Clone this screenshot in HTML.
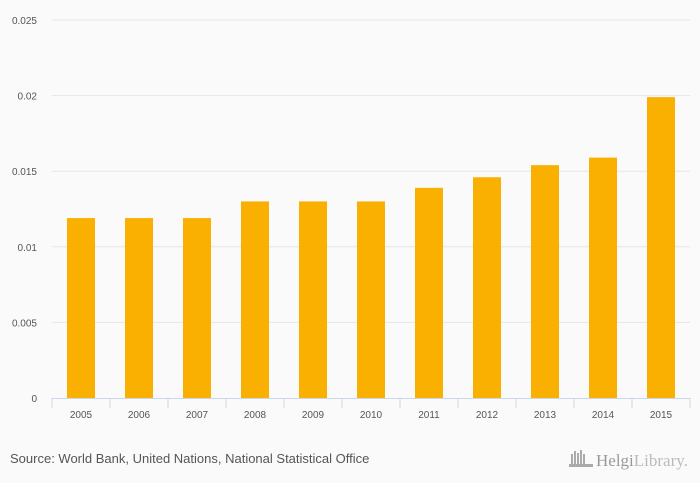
<!DOCTYPE html>
<html><head><meta charset="utf-8"><style>
body{margin:0;background:#fafafa;font-family:"Liberation Sans",sans-serif}
svg{display:block}
</style></head><body>
<svg width="700" height="483">
<rect width="700" height="483" fill="#fafafa"/>
<g id="grid"></g><g id="bars"></g><g id="xaxis"></g>
<text x="10" y="463" font-size="13" fill="#555">Source: World Bank, United Nations, National Statistical Office</text>
<g>
<g fill="#aaa"><rect x="571" y="454" width="2" height="10"/><rect x="574" y="451" width="2" height="13"/><rect x="577" y="453" width="2" height="11"/><rect x="580" y="450" width="2" height="14"/><rect x="583" y="454" width="2" height="10"/><rect x="569" y="464" width="24" height="3"/></g>
<text x="596" y="466" font-size="17" fill="#999" font-family="Liberation Serif,serif">Helgi<tspan fill="#bbb">Library.</tspan></text>
</g>
</svg>
<script>
const categories=["2005","2006","2007","2008","2009","2010","2011","2012","2013","2014","2015"];
const values=[0.0119,0.0119,0.0119,0.013,0.013,0.013,0.0139,0.0146,0.0154,0.0159,0.0199];
const yTicks=[0,0.005,0.01,0.015,0.02,0.025];
const yTickLabels=["0","0.005","0.01","0.015","0.02","0.025"];
const NS="http://www.w3.org/2000/svg";
const x0=52,x1=690,y0=398,y1=20,yMax=0.025;
const band=(x1-x0)/categories.length;
const y=v=>y0-(v/yMax)*(y0-y1);
const xc=i=>x0+band*(i+0.5);
function mk(t,a,p){const e=document.createElementNS(NS,t);for(const k in a)e.setAttribute(k,a[k]);p.appendChild(e);return e;}
const grid=document.getElementById('grid'),bars=document.getElementById('bars'),xa=document.getElementById('xaxis');
yTicks.forEach((v,i)=>{
 if(v>0){const l=mk('line',{x1:x0,x2:x1,y1:y(v),y2:y(v),stroke:'#e6e6e6','stroke-width':1},grid);
 
 }
 const t=mk('text',{x:37,y:y(v)+4,'text-anchor':'end','font-size':10,fill:'#555'},grid);
 t.textContent=yTickLabels[i];
 
 
});
values.forEach((v,i)=>{
 const r=mk('rect',{x:xc(i)-14,y:y(v),width:28,height:y0-y(v),fill:'#f9b000'},bars);
 
 
 const t=mk('text',{x:xc(i),y:418,'text-anchor':'middle','font-size':10,fill:'#555'},xa);
 t.textContent=categories[i];
 
 
});
const ax=mk('line',{x1:x0,x2:x1,y1:y0+0.5,y2:y0+0.5,stroke:'#ccd6eb'},xa);


for(let i=0;i<=categories.length;i++){
 const tk=mk('line',{x1:x0+band*i,x2:x0+band*i,y1:y0,y2:y0+10,stroke:'#ccd6eb'},xa);
 
 
}
</script>
</body></html>
